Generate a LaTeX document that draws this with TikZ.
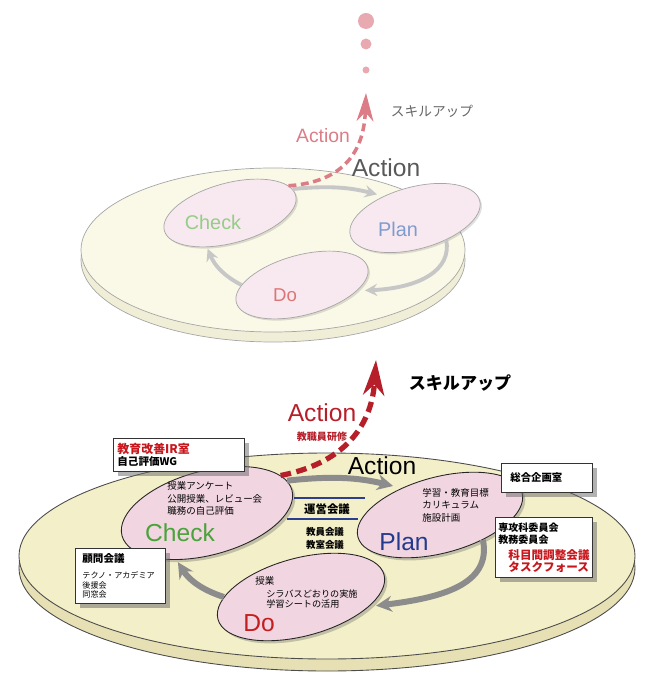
\documentclass[tikz,border=0pt]{standalone}
\usepackage{fontspec}
\setmainfont{Liberation Sans}
\newfontfamily\jp{Noto Sans CJK JP}
\usepackage{xcolor}
\usetikzlibrary{shapes.geometric, arrows.meta, positioning, shadows}

\definecolor{platefill}{HTML}{F3EFC8}
\definecolor{plateside}{HTML}{E6E0B4}
\definecolor{platefilllt}{HTML}{FAF8E6}
\definecolor{platesidelt}{HTML}{F1EED8}
\definecolor{cellfill}{HTML}{F1D6E1}
\definecolor{cellfilllt}{HTML}{F7E9EF}
\definecolor{checkgreen}{HTML}{4AA23A}
\definecolor{plannavy}{HTML}{243A8E}
\definecolor{dored}{HTML}{C41E1E}
\definecolor{actred}{HTML}{B61F29}
\definecolor{actpink}{HTML}{DB7C86}
\definecolor{dotpink}{HTML}{E9A9B0}
\definecolor{boxred}{HTML}{C8161D}
\definecolor{rulenavy}{HTML}{2C3E8E}
\definecolor{checklt}{HTML}{96CC88}
\definecolor{planlt}{HTML}{7F9CD0}
\definecolor{dolt}{HTML}{DC7676}

\begin{document}
\begin{tikzpicture}[
    x=0.02cm, y=-0.02cm,
    cell/.style={ellipse, draw=black!85, fill=cellfill, line width=0.5pt, inner sep=0pt, rotate=15,
        drop shadow={shadow xshift=1.5pt, shadow yshift=-1.5pt, opacity=0.35, fill=black!60}},
    celllt/.style={ellipse, draw=black!35, fill=cellfilllt, line width=0.4pt, inner sep=0pt, rotate=15,
        drop shadow={shadow xshift=1pt, shadow yshift=-1pt, opacity=0.12, fill=black}},
    box/.style={rectangle, draw=black!80, fill=white, line width=0.5pt, anchor=north west, align=left, inner ysep=0pt,
        font=\jp\bfseries\fontsize{5.7}{6.8}\selectfont,
        drop shadow={shadow xshift=2.5pt, shadow yshift=-2.5pt, opacity=0.5, fill=black!60}},
    loopflow/.style={-{Stealth[length=9pt, width=9pt, inset=3pt]}, line width=3.4pt, draw=black!45},
    loopflowlt/.style={-{Stealth[length=7pt, width=7pt, inset=2.5pt]}, line width=2.2pt, draw=black!22},
    skill/.style={-{Stealth[length=20pt, width=12pt, inset=6pt]}, line width=3pt, draw=actred, dash pattern=on 6pt off 3.2pt},
    skilllt/.style={-{Stealth[length=16pt, width=9.5pt, inset=5pt]}, line width=2pt, draw=actpink, dash pattern=on 4.5pt off 2.6pt},
    big/.style={inner sep=0pt, font=\fontsize{14}{16}\selectfont},
    bighalf/.style={inner sep=0pt, font=\fontsize{11.3}{13}\selectfont},
    memo/.style={inner sep=0pt, anchor=north west, align=left, font=\jp\fontsize{5.4}{7.3}\selectfont},
    council/.style={inner sep=0pt, font=\jp\bfseries\fontsize{5.4}{7.4}\selectfont},
]
\useasboundingbox (0,0) rectangle (650,685);

% Plates
\path[fill=platesidelt, draw=black!35, line width=.4pt] (273,260) ellipse [x radius=192, y radius=82];
\path[fill=platefilllt, draw=black!35, line width=.4pt] (273,250) ellipse [x radius=192, y radius=82];
\path[fill=plateside, draw=black!70, line width=.5pt] (327,568) ellipse [x radius=308, y radius=103];
\path[fill=platefill, draw=black!70, line width=.5pt] (327,556) ellipse [x radius=308, y radius=103];

% Upper plate cycle
\node[celllt, minimum width=2.72cm, minimum height=1.2cm] (checkt) at (230,213) {};
\node[celllt, minimum width=2.68cm, minimum height=1.24cm] (plant) at (415,218) {};
\node[celllt, minimum width=2.72cm, minimum height=1.2cm] (dot) at (302,285) {};

\draw[loopflowlt, shorten >=4pt] (checkt.6) to[bend left=10] (plant.130);
\draw[loopflowlt, shorten >=4.5pt] (plant.-50) .. controls (452,270) and (420,288) .. (dot.-21);
\draw[loopflowlt, shorten >=1pt] (dot.165) to[bend left=20] (checkt.-139);

\coordinate (tipt) at (366,93);
\draw[skilllt] (checkt.10) .. controls (345,182) and (364,150) .. (tipt);

% Dots above
\fill[dotpink] (366,21) circle (8);
\fill[dotpink] (366,44) circle (5.5);
\fill[dotpink] (366,70) circle (3.5);

\node[big, black!65] (actlblt) at (386,168) {Action};
\node[bighalf, checklt] (checklblt) at (213,222) {Check};
\node[bighalf, planlt] (planlblt) at (398,229) {Plan};
\node[inner sep=0pt, font=\fontsize{10.6}{12}\selectfont, dolt] (dolblt) at (285,295) {Do};
\node[inner sep=0pt, font=\fontsize{11}{13}\selectfont, actpink] (skillactt) at (323,136) {Action};
\node[inner sep=0pt, font=\jp\fontsize{7.8}{9}\selectfont, black!60] (skilllblt) at (432,111) {スキルアップ};

% Lower plate cycle
\node[cell, minimum width=3.52cm, minimum height=1.68cm] (check) at (207,513) {};
\node[cell, minimum width=3.4cm, minimum height=1.52cm] (plan) at (440,515) {};
\node[cell, minimum width=3.44cm, minimum height=1.56cm] (dob) at (301,597) {};

\draw[loopflow, shorten >=5pt] (check.7) to[bend left=10] (plan.130);
\draw[loopflow, shorten >=4pt] (plan.-45) .. controls (492,585) and (440,598) .. (dob.-23);
\draw[loopflow, shorten >=1.5pt] (dob.165) to[bend left=20] (check.-138);

\coordinate (tip) at (376,360);
\draw[skill] (check.12) .. controls (350,462) and (372,420) .. (tip);

\node[big, checkgreen] (checklbl) at (180,533) {Check};
\node[big, plannavy] (planlbl) at (404,542) {Plan};
\node[big, dored] (dolbl) at (259,623) {Do};
\node[big] (actlbl) at (382,466) {Action};
\node[big, actred] (skillact) at (322,413) {Action};
\node[council, actred, font=\jp\bfseries\fontsize{5.7}{7}\selectfont, below=5.4pt of skillact] (kensyu) {教職員研修};
\node[inner sep=0pt, font=\jp\bfseries\fontsize{9.7}{11}\selectfont] (skilllbl) at (460,383) {スキルアップ};

% Notes in the cells
\node[memo] (checkmemo) at (167,481) {授業アンケート\\公開授業、レビュー会\\職務の自己評価};
\node[memo, font=\jp\fontsize{5.4}{7.1}\selectfont] (planmemo) at (422,488) {学習・教育目標\\カリキュラム\\施設計画};
\node[memo] (domemo) at (255,576) {授業};
\node[memo, font=\jp\fontsize{5.2}{6.2}\selectfont] (domemob) at (266,589) {シラバスどおりの実施\\学習シートの活用};

% Meetings between Check and Plan
\node[council, font=\jp\bfseries\fontsize{6.5}{8}\selectfont] (unei) at (327,509) {運営会議};
\draw[rulenavy, line width=.9pt] (294,498) -- (365,498);
\draw[rulenavy, line width=.9pt] (287,519) -- (358,519);
\node[council, align=center] (kyoin) at (325,538) {教員会議\\教室会議};

% Boxes
\node[box, text width=2.46cm, inner xsep=0.08cm, minimum height=0.66cm, font=\jp\bfseries\fontsize{6}{6.8}\selectfont] (irbox) at (113,438)
    {{\color{boxred}\fontsize{6.8}{6.8}\selectfont 教育改善IR室}\\自己評価WG};
\node[box, text width=1.46cm, inner xsep=0.18cm, minimum height=0.58cm, font=\jp\bfseries\fontsize{5.9}{6.8}\selectfont] (kikaku) at (501,463) {総合企画室};
\node[box, text width=1.82cm, inner xsep=0.06cm, minimum height=1.2cm] (iinkai) at (495,517)
    {専攻科委員会\\教務委員会\\[2.2pt]
     \hspace*{0.2cm}{\color{boxred}\fontsize{6.6}{6.8}\selectfont 科目間調整会議}\\
     \hspace*{0.2cm}{\color{boxred}\fontsize{6.6}{6.8}\selectfont タスクフォース}};
\node[box, text width=1.52cm, inner xsep=0.14cm, minimum height=1.1cm, font=\jp\fontsize{4.6}{5.4}\selectfont] (komon) at (75,548)
    {{\bfseries\fontsize{6}{6}\selectfont 顧問会議}\\[3.6pt]テクノ・アカデミア\\後援会\\同窓会};

\end{tikzpicture}
\end{document}
